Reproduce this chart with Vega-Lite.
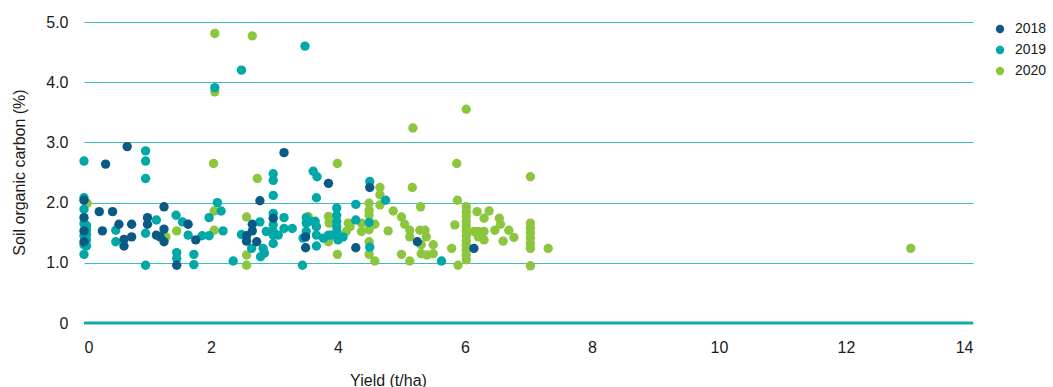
{
  "$schema": "https://vega.github.io/schema/vega-lite/v6.json",
  "width": 889,
  "height": 301,
  "autosize": {"type": "none"},
  "padding": {"left": 84, "top": 22, "right": 80, "bottom": 64},
  "background": "white",
  "config": {
    "view": {"stroke": null},
    "font": "Liberation Sans",
    "axis": {"labelFont": "Liberation Sans", "titleFont": "Liberation Sans", "labelColor": "#1a1a1a", "titleColor": "#1a1a1a"}
  },
  "datasets": {
    "pts": [
      {"x":0.05,"y":1.99,"Year":"2020"},{"x":1.29,"y":1.43,"Year":"2020"},{"x":1.46,"y":1.53,"Year":"2020"},{"x":2.04,"y":2.65,"Year":"2020"},{"x":2.06,"y":4.81,"Year":"2020"},{"x":2.06,"y":3.84,"Year":"2020"},{"x":2.05,"y":1.86,"Year":"2020"},{"x":2.05,"y":1.54,"Year":"2020"},{"x":2.56,"y":1.76,"Year":"2020"},{"x":2.56,"y":1.13,"Year":"2020"},{"x":2.56,"y":0.96,"Year":"2020"},{"x":2.65,"y":4.77,"Year":"2020"},{"x":2.73,"y":2.40,"Year":"2020"},{"x":3.53,"y":1.77,"Year":"2020"},{"x":3.85,"y":1.77,"Year":"2020"},{"x":3.86,"y":1.66,"Year":"2020"},{"x":3.85,"y":1.35,"Year":"2020"},{"x":3.99,"y":2.65,"Year":"2020"},{"x":3.99,"y":1.14,"Year":"2020"},{"x":4.13,"y":1.52,"Year":"2020"},{"x":4.16,"y":1.66,"Year":"2020"},{"x":4.19,"y":1.60,"Year":"2020"},{"x":4.37,"y":1.66,"Year":"2020"},{"x":4.37,"y":1.52,"Year":"2020"},{"x":4.49,"y":1.99,"Year":"2020"},{"x":4.49,"y":1.87,"Year":"2020"},{"x":4.49,"y":1.79,"Year":"2020"},{"x":4.49,"y":1.55,"Year":"2020"},{"x":4.49,"y":1.35,"Year":"2020"},{"x":4.49,"y":1.14,"Year":"2020"},{"x":4.58,"y":1.64,"Year":"2020"},{"x":4.58,"y":1.03,"Year":"2020"},{"x":4.66,"y":2.25,"Year":"2020"},{"x":4.66,"y":2.13,"Year":"2020"},{"x":4.66,"y":1.96,"Year":"2020"},{"x":4.79,"y":1.53,"Year":"2020"},{"x":4.87,"y":1.86,"Year":"2020"},{"x":5.00,"y":1.76,"Year":"2020"},{"x":5.05,"y":1.64,"Year":"2020"},{"x":5.13,"y":1.54,"Year":"2020"},{"x":5.13,"y":1.43,"Year":"2020"},{"x":5.00,"y":1.14,"Year":"2020"},{"x":5.13,"y":1.03,"Year":"2020"},{"x":5.17,"y":2.25,"Year":"2020"},{"x":5.18,"y":3.24,"Year":"2020"},{"x":5.30,"y":1.93,"Year":"2020"},{"x":5.29,"y":1.54,"Year":"2020"},{"x":5.37,"y":1.54,"Year":"2020"},{"x":5.39,"y":1.43,"Year":"2020"},{"x":5.31,"y":1.30,"Year":"2020"},{"x":5.50,"y":1.30,"Year":"2020"},{"x":5.31,"y":1.15,"Year":"2020"},{"x":5.50,"y":1.15,"Year":"2020"},{"x":5.40,"y":1.13,"Year":"2020"},{"x":5.79,"y":1.24,"Year":"2020"},{"x":5.84,"y":1.63,"Year":"2020"},{"x":5.87,"y":2.65,"Year":"2020"},{"x":5.88,"y":2.04,"Year":"2020"},{"x":5.89,"y":0.96,"Year":"2020"},{"x":6.02,"y":3.55,"Year":"2020"},{"x":6.02,"y":1.93,"Year":"2020"},{"x":6.02,"y":1.85,"Year":"2020"},{"x":6.02,"y":1.77,"Year":"2020"},{"x":6.02,"y":1.69,"Year":"2020"},{"x":6.02,"y":1.61,"Year":"2020"},{"x":6.02,"y":1.53,"Year":"2020"},{"x":6.02,"y":1.45,"Year":"2020"},{"x":6.02,"y":1.37,"Year":"2020"},{"x":6.02,"y":1.29,"Year":"2020"},{"x":6.02,"y":1.21,"Year":"2020"},{"x":6.02,"y":1.13,"Year":"2020"},{"x":6.02,"y":1.05,"Year":"2020"},{"x":6.19,"y":1.85,"Year":"2020"},{"x":6.38,"y":1.86,"Year":"2020"},{"x":6.30,"y":1.74,"Year":"2020"},{"x":6.54,"y":1.74,"Year":"2020"},{"x":6.56,"y":1.64,"Year":"2020"},{"x":6.14,"y":1.52,"Year":"2020"},{"x":6.21,"y":1.52,"Year":"2020"},{"x":6.30,"y":1.52,"Year":"2020"},{"x":6.30,"y":1.38,"Year":"2020"},{"x":6.21,"y":1.43,"Year":"2020"},{"x":6.47,"y":1.54,"Year":"2020"},{"x":6.69,"y":1.54,"Year":"2020"},{"x":6.77,"y":1.42,"Year":"2020"},{"x":6.60,"y":1.36,"Year":"2020"},{"x":7.03,"y":2.43,"Year":"2020"},{"x":7.03,"y":1.66,"Year":"2020"},{"x":7.03,"y":1.58,"Year":"2020"},{"x":7.03,"y":1.50,"Year":"2020"},{"x":7.03,"y":1.41,"Year":"2020"},{"x":7.03,"y":1.32,"Year":"2020"},{"x":7.03,"y":1.24,"Year":"2020"},{"x":7.03,"y":0.95,"Year":"2020"},{"x":7.31,"y":1.24,"Year":"2020"},{"x":13.02,"y":1.24,"Year":"2020"},

      {"x":0,"y":2.69,"Year":"2019"},{"x":0,"y":2.08,"Year":"2019"},{"x":0,"y":1.89,"Year":"2019"},{"x":0,"y":1.65,"Year":"2019"},{"x":0,"y":1.45,"Year":"2019"},{"x":0,"y":1.30,"Year":"2019"},{"x":0,"y":1.14,"Year":"2019"},{"x":0.04,"y":1.62,"Year":"2019"},{"x":0.04,"y":1.55,"Year":"2019"},{"x":0.04,"y":1.47,"Year":"2019"},{"x":0.04,"y":1.38,"Year":"2019"},{"x":0.04,"y":1.28,"Year":"2019"},{"x":0.50,"y":1.54,"Year":"2019"},{"x":0.50,"y":1.35,"Year":"2019"},{"x":0.97,"y":2.86,"Year":"2019"},{"x":0.97,"y":2.69,"Year":"2019"},{"x":0.97,"y":2.40,"Year":"2019"},{"x":0.97,"y":1.49,"Year":"2019"},{"x":0.97,"y":0.96,"Year":"2019"},{"x":1.14,"y":1.71,"Year":"2019"},{"x":1.45,"y":1.79,"Year":"2019"},{"x":1.55,"y":1.68,"Year":"2019"},{"x":1.64,"y":1.46,"Year":"2019"},{"x":1.46,"y":1.17,"Year":"2019"},{"x":1.46,"y":1.07,"Year":"2019"},{"x":1.73,"y":1.14,"Year":"2019"},{"x":1.73,"y":0.97,"Year":"2019"},{"x":1.86,"y":1.45,"Year":"2019"},{"x":1.97,"y":1.45,"Year":"2019"},{"x":1.97,"y":1.75,"Year":"2019"},{"x":2.06,"y":3.91,"Year":"2019"},{"x":2.10,"y":2.00,"Year":"2019"},{"x":2.16,"y":1.86,"Year":"2019"},{"x":2.19,"y":1.53,"Year":"2019"},{"x":2.35,"y":1.03,"Year":"2019"},{"x":2.48,"y":4.20,"Year":"2019"},{"x":2.48,"y":1.47,"Year":"2019"},{"x":2.64,"y":1.24,"Year":"2019"},{"x":2.77,"y":1.68,"Year":"2019"},{"x":2.78,"y":1.10,"Year":"2019"},{"x":2.84,"y":1.16,"Year":"2019"},{"x":2.82,"y":1.24,"Year":"2019"},{"x":2.87,"y":1.52,"Year":"2019"},{"x":2.98,"y":2.48,"Year":"2019"},{"x":2.98,"y":2.37,"Year":"2019"},{"x":2.98,"y":2.12,"Year":"2019"},{"x":2.98,"y":1.82,"Year":"2019"},{"x":2.98,"y":1.63,"Year":"2019"},{"x":2.98,"y":1.52,"Year":"2019"},{"x":2.98,"y":1.46,"Year":"2019"},{"x":2.98,"y":1.32,"Year":"2019"},{"x":3.06,"y":1.46,"Year":"2019"},{"x":3.15,"y":1.75,"Year":"2019"},{"x":3.15,"y":1.57,"Year":"2019"},{"x":3.28,"y":1.57,"Year":"2019"},{"x":3.44,"y":0.96,"Year":"2019"},{"x":3.45,"y":1.41,"Year":"2019"},{"x":3.48,"y":4.60,"Year":"2019"},{"x":3.50,"y":1.75,"Year":"2019"},{"x":3.50,"y":1.66,"Year":"2019"},{"x":3.50,"y":1.52,"Year":"2019"},{"x":3.56,"y":1.69,"Year":"2019"},{"x":3.64,"y":1.69,"Year":"2019"},{"x":3.66,"y":1.60,"Year":"2019"},{"x":3.66,"y":1.46,"Year":"2019"},{"x":3.66,"y":1.28,"Year":"2019"},{"x":3.77,"y":1.41,"Year":"2019"},{"x":3.61,"y":2.52,"Year":"2019"},{"x":3.67,"y":2.43,"Year":"2019"},{"x":3.66,"y":2.08,"Year":"2019"},{"x":3.85,"y":1.46,"Year":"2019"},{"x":3.90,"y":1.46,"Year":"2019"},{"x":3.98,"y":1.91,"Year":"2019"},{"x":3.98,"y":1.79,"Year":"2019"},{"x":3.98,"y":1.69,"Year":"2019"},{"x":3.98,"y":1.60,"Year":"2019"},{"x":3.98,"y":1.52,"Year":"2019"},{"x":4.00,"y":1.38,"Year":"2019"},{"x":4.08,"y":1.43,"Year":"2019"},{"x":4.28,"y":1.97,"Year":"2019"},{"x":4.28,"y":1.71,"Year":"2019"},{"x":4.49,"y":1.67,"Year":"2019"},{"x":4.50,"y":2.35,"Year":"2019"},{"x":4.50,"y":1.26,"Year":"2019"},{"x":4.75,"y":2.04,"Year":"2019"},{"x":5.63,"y":1.03,"Year":"2019"},

      {"x":0,"y":2.04,"Year":"2018"},{"x":0,"y":1.75,"Year":"2018"},{"x":0,"y":1.53,"Year":"2018"},{"x":0,"y":1.35,"Year":"2018"},{"x":0.24,"y":1.85,"Year":"2018"},{"x":0.29,"y":1.53,"Year":"2018"},{"x":0.34,"y":2.64,"Year":"2018"},{"x":0.45,"y":1.85,"Year":"2018"},{"x":0.55,"y":1.64,"Year":"2018"},{"x":0.63,"y":1.39,"Year":"2018"},{"x":0.63,"y":1.28,"Year":"2018"},{"x":0.68,"y":2.93,"Year":"2018"},{"x":0.75,"y":1.64,"Year":"2018"},{"x":0.75,"y":1.43,"Year":"2018"},{"x":1.0,"y":1.75,"Year":"2018"},{"x":1.0,"y":1.64,"Year":"2018"},{"x":1.14,"y":1.46,"Year":"2018"},{"x":1.20,"y":1.43,"Year":"2018"},{"x":1.26,"y":1.93,"Year":"2018"},{"x":1.26,"y":1.56,"Year":"2018"},{"x":1.26,"y":1.35,"Year":"2018"},{"x":1.46,"y":0.96,"Year":"2018"},{"x":1.64,"y":1.64,"Year":"2018"},{"x":1.76,"y":1.38,"Year":"2018"},{"x":2.56,"y":1.36,"Year":"2018"},{"x":2.56,"y":1.45,"Year":"2018"},{"x":2.65,"y":1.64,"Year":"2018"},{"x":2.65,"y":1.53,"Year":"2018"},{"x":2.72,"y":1.35,"Year":"2018"},{"x":2.77,"y":2.03,"Year":"2018"},{"x":2.98,"y":1.74,"Year":"2018"},{"x":3.15,"y":2.83,"Year":"2018"},{"x":3.49,"y":1.43,"Year":"2018"},{"x":3.49,"y":1.25,"Year":"2018"},{"x":3.85,"y":2.32,"Year":"2018"},{"x":4.28,"y":1.25,"Year":"2018"},{"x":4.50,"y":2.25,"Year":"2018"},{"x":5.25,"y":1.35,"Year":"2018"},{"x":6.14,"y":1.24,"Year":"2018"}
    ]
  },
  "layer": [
    {
      "data": {"name": "pts"},
      "mark": {"type": "point", "filled": true, "opacity": 1, "size": 88, "shape": "circle"},
      "encoding": {
        "x": {
          "field": "x", "type": "quantitative",
          "scale": {"domain": [0, 14], "nice": false, "zero": false},
          "axis": {
            "title": "Yield (t/ha)", "values": [0, 2, 4, 6, 8, 10, 12, 14],
            "grid": false, "domain": false, "ticks": false,
            "labelFontSize": 16, "labelPadding": 16,
            "titleFontSize": 16, "titleFontWeight": "normal",
            "titleX": 304, "titleY": 49, "titleBaseline": "top"
          }
        },
        "y": {
          "field": "y", "type": "quantitative",
          "scale": {"domain": [0, 5], "nice": false},
          "axis": {
            "title": "Soil organic carbon (%)", "values": [0, 1, 2, 3, 4, 5],
            "labelExpr": "datum.value == 0 ? '0' : format(datum.value, '.1f')",
            "grid": true, "gridColor": "#3dbdbd", "gridWidth": 1,
            "domain": false, "ticks": false,
            "labelFontSize": 16, "labelPadding": 16,
            "titleFontSize": 16, "titleFontWeight": "normal",
            "titleX": -57, "titleY": 150
          }
        },
        "color": {
          "field": "Year", "type": "nominal",
          "scale": {"domain": ["2018", "2019", "2020"], "range": ["#0b5a85", "#00a9a8", "#8cc63e"]},
          "legend": {
            "title": null, "orient": "none", "legendX": 909, "legendY": 0,
            "labelFontSize": 14, "labelFont": "Liberation Sans", "labelColor": "#1a1a1a",
            "symbolSize": 70, "symbolType": "circle", "rowPadding": 7, "labelOffset": 8
          }
        }
      }
    },
    {
      "data": {"values": [{"z": 0}]},
      "mark": {"type": "rule", "color": "#10aaaa", "strokeWidth": 3},
      "encoding": {"y": {"field": "z", "type": "quantitative"}}
    }
  ]
}
